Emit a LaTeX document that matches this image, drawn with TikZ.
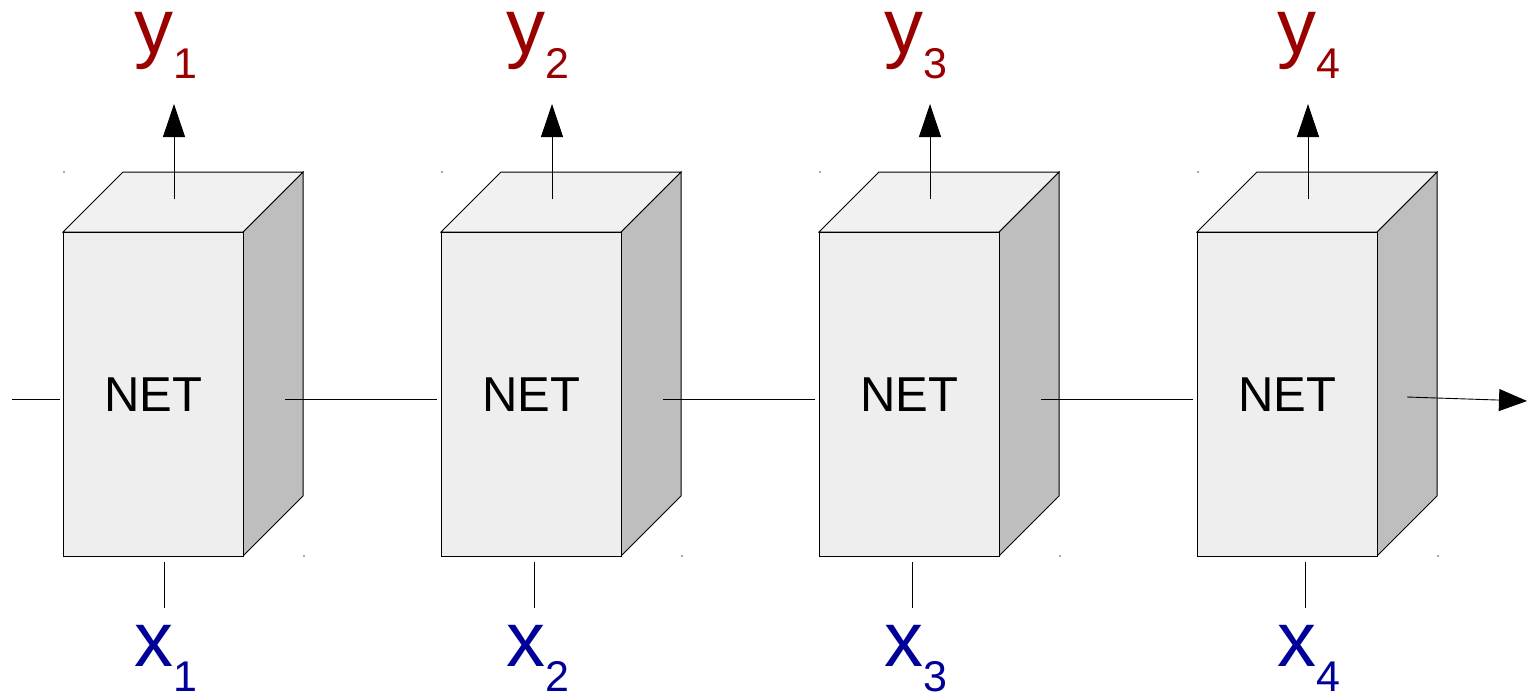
\documentclass[tikz,border=0pt]{standalone}
\usepackage{fontspec}
\setmainfont{Liberation Sans}
\usetikzlibrary{arrows.meta}
\definecolor{outred}{HTML}{990000}
\definecolor{inblue}{HTML}{000099}
\definecolor{frontgray}{HTML}{EEEEEE}
\definecolor{topgray}{HTML}{F1F1F1}
\definecolor{sidegray}{HTML}{BEBEBE}
\definecolor{dotgray}{HTML}{555555}
\begin{document}
\begin{tikzpicture}[x=1pt,y=-1pt,
  face/.style={draw=black, line width=1pt, line join=miter},
  link/.style={draw=black, line width=0.9pt},
  outarrow/.style={link, -{Triangle[length=33pt,width=22pt]}},
  sidearrow/.style={link, -{Triangle[length=28pt,width=22pt]}},
  netlabel/.style={font=\fontsize{49}{49}\selectfont, inner sep=0pt},
  sublabel/.style={anchor=base west, inner sep=0pt, text height=41pt, text depth=25pt, font=\fontsize{78}{78}\selectfont},
  ylabel/.style={sublabel, text=outred},
  xlabel/.style={sublabel, text=inblue},
  cornerdot/.style={fill=dotgray}
]
\useasboundingbox (0,0) rectangle (1528,693);

\foreach \i/\bx/\ux/\dx/\lx in {1/63/174/164/134, 2/441/552/534/506, 3/819/930/912/884, 4/1197/1308/1305/1277} {
  % box corners
  \coordinate (fa\i) at (\bx,232);
  \coordinate (fb\i) at (\bx+180,232);
  \coordinate (fc\i) at (\bx+180,556);
  \coordinate (fd\i) at (\bx,556);
  \coordinate (ta\i) at (\bx+60,172);
  \coordinate (tb\i) at (\bx+240,172);
  \coordinate (sc\i) at (\bx+240,496);
  % faces
  \filldraw[face, fill=sidegray] (fb\i) -- (tb\i) -- (sc\i) -- (fc\i) -- cycle;
  \filldraw[face, fill=topgray] (fa\i) -- (ta\i) -- (tb\i) -- (fb\i) -- cycle;
  \filldraw[face, fill=frontgray] (fa\i) -- (fb\i) -- (fc\i) -- (fd\i) -- cycle;
  \fill[cornerdot] (\bx+1,172) circle (0.9pt);
  \fill[cornerdot] (\bx+241,556) circle (0.9pt);
  % text
  \node[netlabel] (net\i) at (\bx+90,395) {NET};
  % output arrow
  \coordinate (ubase\i) at (\ux,199);
  \coordinate (utip\i) at (\ux,104);
  \draw[outarrow] (ubase\i) -- (utip\i);
  % input line
  \coordinate (dtop\i) at (\dx,562);
  \coordinate (dbot\i) at (\dx,608);
  \draw[link] (dtop\i) -- (dbot\i);
  % labels
  \node[ylabel] (y\i) at (\lx,53) {y\raisebox{-25pt}{\fontsize{43}{43}\selectfont\i}};
  \node[xlabel] (x\i) at (\lx,666) {x\raisebox{-25pt}{\fontsize{43}{43}\selectfont\i}};
}

% horizontal recurrent links
\coordinate (h0a) at (12,399);
\coordinate (h0b) at (60,399);
\draw[link] (h0a) -- (h0b);
\foreach \sx in {285,663,1041} {
  \coordinate (ha) at (\sx,399);
  \coordinate (hb) at (\sx+152,399);
  \draw[link] (ha) -- (hb);
}
\coordinate (ra) at (1407,397);
\coordinate (rb) at (1527,401);
\draw[sidearrow] (ra) -- (rb);
\end{tikzpicture}
\end{document}
